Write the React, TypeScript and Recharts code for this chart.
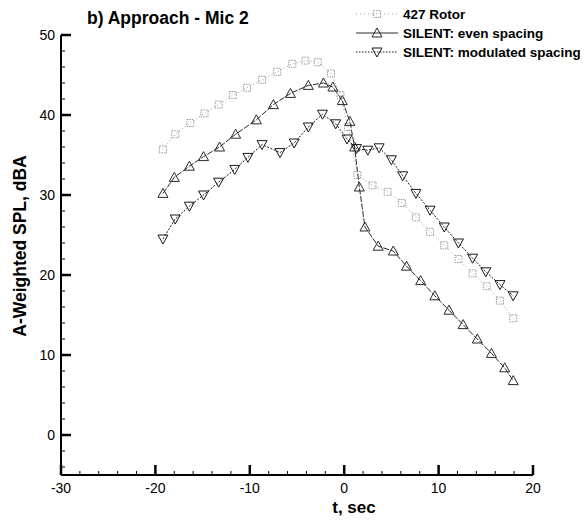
import React from 'react';
import { LineChart, Line, XAxis, YAxis } from 'recharts';

const rotorT = [-19.2, -17.9, -16.3, -14.8, -13.3, -11.8, -10.3, -8.7, -7.1, -5.5, -4.1, -2.8, -1.4, -0.4, 0.4, 1.4, 3.0, 4.6, 6.1, 7.6, 9.1, 10.6, 12.1, 13.6, 15.1, 16.5, 17.9];
const rotorV = [35.7, 37.6, 39.0, 40.2, 41.3, 42.5, 43.4, 44.4, 45.4, 46.4, 46.8, 46.6, 45.2, 42.5, 38.5, 32.5, 31.2, 30.4, 29.0, 27.2, 25.4, 23.7, 22.0, 20.2, 18.6, 16.8, 14.6];

const evenT = [-19.2, -18.0, -16.4, -14.9, -13.2, -11.5, -9.3, -7.5, -5.7, -3.8, -2.2, -1.2, -0.2, 0.6, 1.1, 1.6, 2.2, 3.6, 5.2, 6.6, 8.1, 9.6, 11.1, 12.6, 14.1, 15.6, 17.0, 17.9];
const evenV = [30.2, 32.2, 33.6, 34.8, 36.0, 37.6, 39.4, 41.3, 42.7, 43.7, 44.0, 43.5, 41.8, 39.2, 36.0, 31.0, 26.0, 23.6, 23.0, 21.1, 19.3, 17.4, 15.6, 13.8, 12.0, 10.2, 8.4, 6.8];

const modT = [-19.2, -17.9, -16.4, -14.9, -13.3, -11.6, -10.2, -8.7, -6.8, -5.3, -3.8, -2.3, -0.9, 0.3, 1.3, 2.5, 3.7, 5.0, 6.2, 7.6, 9.1, 10.6, 12.1, 13.6, 15.0, 16.5, 17.9];
const modV = [24.5, 27.0, 28.6, 30.0, 31.6, 33.2, 34.7, 36.3, 35.3, 36.5, 38.5, 40.1, 38.9, 37.0, 35.8, 35.6, 35.9, 34.4, 32.4, 30.2, 28.1, 26.0, 24.0, 22.1, 20.4, 18.8, 17.4];

const xTicks = [-30, -28, -26, -24, -22, -20, -18, -16, -14, -12, -10, -8, -6, -4, -2, 0, 2, 4, 6, 8, 10, 12, 14, 16, 18, 20];
const yTicks = [-4, -2, 0, 2, 4, 6, 8, 10, 12, 14, 16, 18, 20, 22, 24, 26, 28, 30, 32, 34, 36, 38, 40, 42, 44, 46, 48, 50];

const seriesNames = ['427 Rotor', 'SILENT: even spacing', 'SILENT: modulated spacing'];

const toRows = (t: number[], v: number[]) => t.map((x, i) => ({ t: x, v: v[i] }));
const rotorData = toRows(rotorT, rotorV);
const evenData = toRows(evenT, evenV);
const modData = toRows(modT, modV);

const ROTOR = '#9a9a9a';
const EVEN = '#2a2a2a';
const MOD = '#1a1a1a';

const font = 'Liberation Sans, Arial, Helvetica, sans-serif';

const Square = ({ cx, cy, stroke }: any) => (
  <rect x={cx - 3.5} y={cy - 3.5} width={7} height={7} fill="none" stroke={stroke} strokeWidth={1} strokeDasharray="1.5 1" />
);
const TriUp = ({ cx, cy, stroke }: any) => (
  <polygon points={`${cx},${cy - 5} ${cx + 5},${cy + 4} ${cx - 5},${cy + 4}`} fill="none" stroke={stroke} strokeWidth={1} />
);
const TriDown = ({ cx, cy, stroke }: any) => (
  <polygon points={`${cx},${cy + 5} ${cx + 5},${cy - 4} ${cx - 5},${cy - 4}`} fill="none" stroke={stroke} strokeWidth={1} />
);

const renderYTick = (props: any) => {
  const { x, y, payload, index } = props;
  const v = Number(payload.value);
  const major = Math.abs(v % 10) === 0;
  const ax = Number(x);
  const ay = Number(y);
  return (
    <g key={`yt${index}`}>
      <path d={`M${ax},${ay}L${ax + (major ? 10 : 4)},${ay}`} stroke="#000" strokeWidth={major ? 2.5 : 1} fill="none" />
      {major && (
        <text x={ax - 6} y={ay} dy={5} textAnchor="end" fontSize={14} fontFamily={font} fill="#000" stroke="none">
          {v}
        </text>
      )}
    </g>
  );
};

const renderXTick = (props: any) => {
  const { x, y, payload, index } = props;
  const v = Number(payload.value);
  const major = Math.abs(v % 10) === 0;
  const ax = Number(x);
  const ay = Number(y);
  return (
    <g key={`xt${index}`}>
      <path d={`M${ax},${ay}L${ax},${ay - (major ? 10 : 4)}`} stroke="#000" strokeWidth={major ? 2.5 : 1} fill="none" />
      {major && (
        <text x={ax} y={ay} dy={18} textAnchor="middle" fontSize={14} fontFamily={font} fill="#000" stroke="none">
          {v}
        </text>
      )}
    </g>
  );
};

export default function App() {
  const legendRows = [
    { name: seriesNames[0], color: ROTOR, dash: '1 3', Marker: Square },
    { name: seriesNames[1], color: EVEN, dash: undefined, Marker: TriUp },
    { name: seriesNames[2], color: MOD, dash: '1.5 1.5', Marker: TriDown },
  ];
  return (
    <div style={{ position: 'relative', width: 580, height: 515 }}>
      <LineChart width={580} height={515} data={rotorData} margin={{ top: 27, right: 55, bottom: 18, left: 13 }}>
        <XAxis
          dataKey="t"
          type="number"
          domain={[-30, 20]}
          ticks={xTicks}
          interval={0}
          allowDataOverflow
          height={30}
          tickSize={0}
          tickMargin={0}
          tickLine={false}
          tick={renderXTick}
          axisLine={{ stroke: '#000', strokeWidth: 2 }}
        />
        <YAxis
          type="number"
          domain={[-5, 50]}
          ticks={yTicks}
          interval={0}
          allowDataOverflow
          width={40}
          tickSize={0}
          tickMargin={0}
          tickLine={false}
          tick={renderYTick}
          axisLine={{ stroke: '#000', strokeWidth: 2 }}
        />
        <Line data={rotorData} dataKey="v" type="linear" stroke={ROTOR} strokeWidth={1} strokeDasharray="1 2.5" isAnimationActive={false}
          dot={(p: any) => <Square key={`r${p.index}`} cx={p.cx} cy={p.cy} stroke={ROTOR} />} />
        <Line data={evenData} dataKey="v" type="linear" stroke={EVEN} strokeWidth={1} strokeDasharray="6 1.5" isAnimationActive={false}
          dot={(p: any) => <TriUp key={`e${p.index}`} cx={p.cx} cy={p.cy} stroke={EVEN} />} />
        <Line data={modData} dataKey="v" type="linear" stroke={MOD} strokeWidth={1} strokeDasharray="2 1.5" isAnimationActive={false}
          dot={(p: any) => <TriDown key={`m${p.index}`} cx={p.cx} cy={p.cy} stroke={MOD} />} />
      </LineChart>
      <svg width={580} height={515} style={{ position: 'absolute', left: 0, top: 0, pointerEvents: 'none' }}>
        <text x={79} y={16} fontSize={17.5} fontWeight="bold" fontFamily={font} fill="#000">b) Approach - Mic 2</text>
        <text x={346} y={505} fontSize={17} fontWeight="bold" fontFamily={font} fill="#000" textAnchor="middle">t, sec</text>
        <text x={0} y={0} fontSize={17.5} fontWeight="bold" fontFamily={font} fill="#000" textAnchor="middle" transform="translate(18,238) rotate(-90)">A-Weighted SPL, dBA</text>
        {legendRows.map((r, i) => {
          const cy = 6 + i * 19;
          const M = r.Marker;
          return (
            <g key={r.name}>
              <line x1={348} x2={390} y1={cy} y2={cy} stroke={r.color} strokeWidth={1} strokeDasharray={r.dash} />
              <M cx={369} cy={cy} stroke={r.color} />
              <text x={395} y={cy + 5} fontSize={13.5} fontWeight="bold" fontFamily={font} fill="#000">{r.name}</text>
            </g>
          );
        })}
      </svg>
    </div>
  );
}
